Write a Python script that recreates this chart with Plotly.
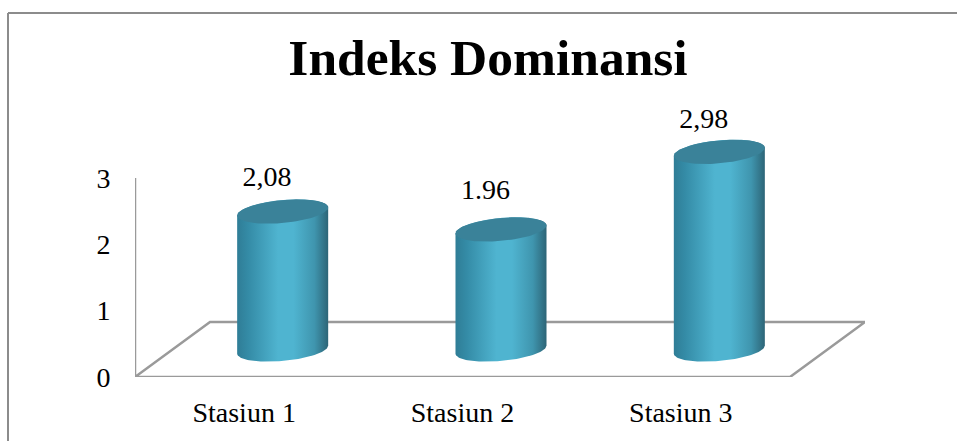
import numpy as np
import plotly.graph_objects as go

title = "Indeks Dominansi"
categories = ["Stasiun 1", "Stasiun 2", "Stasiun 3"]
bar_heights = [2.08, 1.81, 2.98]          # heights as drawn
value_labels = ["2,08", "1.96", "2,98"]   # labels as printed
label_levels = [2.99, 2.79, 3.86]
y_ticks = [0, 1, 2, 3]

W, H = 957, 441
L, R, T, B = 135, 865, 90, 377
xs = (R - L) / 3.344                      # pixels per category
ys = (377 - 178) / 3.0                    # pixels per unit
depth_x, depth_y = 75 / xs, 55 / ys       # depth of the floor
xmax = 2.5 + depth_x
ymax = (B - T) / ys
rx, ry, skew = 45.5 / xs, 11.5 / ys, 4 / ys   # cylinder ellipse

FONT = "Liberation Serif"
GREY = "#9a9a9a"
fig = go.Figure()

# floor and back axis line
fig.add_trace(go.Scatter(
    x=[-0.5, -0.5 + depth_x, xmax, 2.5, -0.5, -0.5],
    y=[0, depth_y, depth_y, 0, 0, 3],
    mode="lines", line=dict(color=GREY, width=2.5), cliponaxis=False,
    hoverinfo="skip", showlegend=False))

t_front = np.linspace(0, np.pi, 60)
t_full = np.linspace(0, 2 * np.pi, 90)
gradient = dict(type="horizontal", colorscale=[
    [0.0, "#2f7d96"], [0.12, "#348ba6"], [0.45, "#4fb4d0"], [0.62, "#4fb4d0"],
    [0.85, "#3f95ae"], [1.0, "#2d6577"]])

for i, h in enumerate(bar_heights):
    cx = i + depth_x / 2 + 1 / xs
    base = depth_y / 2
    xb = cx + rx * np.cos(t_front)
    yb = base - ry * np.sin(t_front) + skew * np.cos(t_front)
    xt = cx + rx * np.cos(t_front[::-1])
    yt = base + h + ry * np.sin(t_front[::-1]) + skew * np.cos(t_front[::-1])
    fig.add_trace(go.Scatter(
        x=np.r_[xb, xt, xb[0]], y=np.r_[yb, yt, yb[0]],
        mode="lines", line=dict(width=0), fill="toself", fillgradient=gradient,
        cliponaxis=False, hoverinfo="skip", showlegend=False))
    fig.add_trace(go.Scatter(
        x=cx + rx * np.cos(t_full),
        y=base + h + ry * np.sin(t_full) + skew * np.cos(t_full),
        mode="lines", line=dict(width=0), fill="toself", fillcolor="#3a8299",
        cliponaxis=False, hoverinfo="skip", showlegend=False))

fig.add_trace(go.Scatter(
    x=[i + 0.105 for i in range(3)], y=label_levels, text=value_labels,
    mode="text", textposition="middle center", cliponaxis=False,
    textfont=dict(family=FONT, size=28, color="black"),
    hoverinfo="skip", showlegend=False))

px = lambda p: (p - L) / (R - L)
py = lambda p: (B - p) / (B - T)
line = dict(color="#8c8c8c", width=2)
fig.update_layout(
    width=W, height=H, autosize=False, plot_bgcolor="rgba(0,0,0,0)", paper_bgcolor="white",
    margin=dict(l=L, r=W - R, t=T, b=H - B),
    title=dict(text=title, x=488 / W, xanchor="center", y=1 - 57 / H, yanchor="middle",
               automargin=False,
               font=dict(family=FONT, size=51.5, color="black", weight="bold")),
    xaxis=dict(range=[-0.5, xmax], tickvals=[0, 1, 2], ticktext=categories,
               automargin=False, showgrid=False, zeroline=False, showline=False,
               ticks="outside", ticklen=10, tickcolor="rgba(0,0,0,0)",
               tickfont=dict(family=FONT, size=28, color="black")),
    yaxis=dict(range=[0, ymax], tickvals=y_ticks, automargin=False, showgrid=False,
               zeroline=False, showline=False, ticks="outside", ticklen=18,
               tickcolor="rgba(0,0,0,0)",
               tickfont=dict(family=FONT, size=28, color="black")),
    shapes=[
        dict(type="line", xref="paper", yref="paper", x0=px(8), x1=px(8),
             y0=py(13), y1=py(H), line=line),
        dict(type="line", xref="paper", yref="paper", x0=px(8), x1=px(W),
             y0=py(13), y1=py(13), line=line),
    ],
)
fig.write_html("out.html", config={"displayModeBar": False},
               post_script="document.body.style.margin='0';")
